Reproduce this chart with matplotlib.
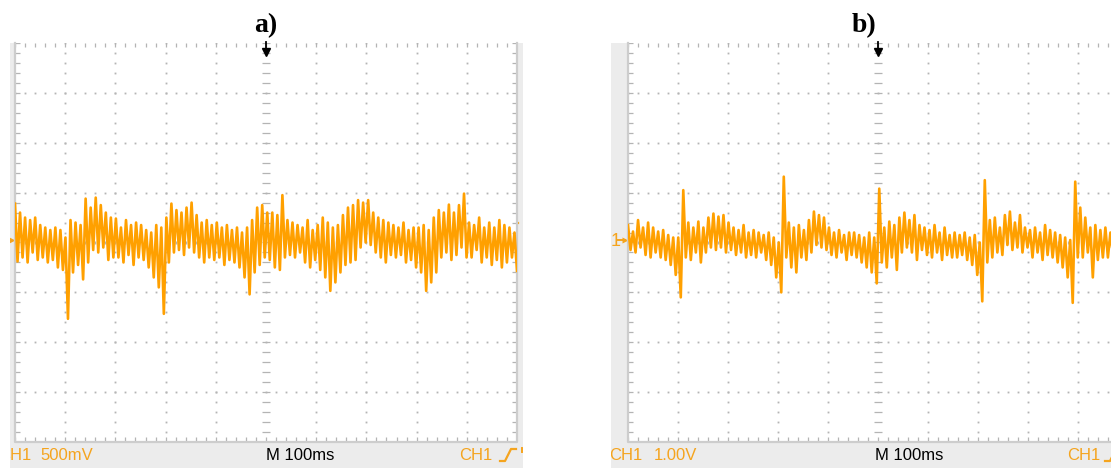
import numpy as np
import matplotlib
matplotlib.use("Agg")
import matplotlib.pyplot as plt
from matplotlib.collections import LineCollection

W, H = 1111, 468

# CH1 samples in screen divisions, alternating peak / trough, 0.05 div apart
trace_a = [
    0.78, -0.38, 0.60, -0.30, 0.50, -0.40, 0.45, -0.20, 0.50, -0.35,
    0.35, -0.30, 0.30, -0.40, 0.25, -0.35, 0.30, -0.50, 0.25, -0.55,
    0.10, -1.53, 0.45, -0.60, 0.40, -0.45, 0.35, -0.74, 0.88, -0.40,
    0.70, -0.15, 0.90, -0.20, 0.75, -0.10, 0.60, -0.35, 0.50, -0.30,
    0.48, -0.30, 0.30, -0.40, 0.45, -0.25, 0.35, -0.45, 0.40, -0.30,
    0.35, -0.35, 0.25, -0.50, 0.20, -0.70, 0.35, -0.90, 0.30, -1.43,
    0.50, -0.40, 0.78, -0.20, 0.65, -0.15, 0.60, -0.25, 0.70, -0.10,
    0.80, -0.20, 0.55, -0.30, 0.40, -0.40, 0.45, -0.30, 0.35, -0.35,
    0.40, -0.30, 0.30, -0.45, 0.35, -0.35, 0.25, -0.40, 0.30, -0.50,
    0.20, -0.70, 0.30, -1.04, 0.45, -0.60, 0.70, -0.45, 0.75, -0.30,
    0.60, -0.35, 0.60, -0.50, 0.55, -0.55, 0.95, -0.30, 0.45, -0.25,
    0.40, -0.30, 0.35, -0.20, 0.30, -0.40, 0.45, -0.50, 0.25, -0.35,
    0.35, -0.55, 0.50, -0.70, 0.40, -0.97, 0.30, -0.80, 0.35, -0.60,
    0.55, -0.45, 0.70, -0.40, 0.75, -0.35, 0.85, -0.10, 0.80, 0.00,
    0.85, -0.05, 0.60, -0.20, 0.50, -0.30, 0.45, -0.40, 0.40, -0.25,
    0.35, -0.30, 0.30, -0.25, 0.40, -0.40, 0.25, -0.35, 0.30, -0.50,
    0.30, -0.60, 0.35, -0.97, 0.25, -0.80, 0.50, -0.60, 0.65, -0.30,
    0.60, -0.20, 0.76, -0.35, 0.60, -0.25, 0.75, -0.10, 0.98, -0.30,
    0.40, -0.30, 0.35, -0.15, 0.50, -0.40, 0.30, -0.30, 0.40, -0.45,
    0.30, -0.35, 0.45, -0.50, 0.35, -0.40, 0.30, -0.30, 0.20, -0.57,
]

trace_b = [
    0.35, -0.15, 0.22, -0.20, 0.45, -0.10, 0.30, -0.25, 0.40, -0.30,
    0.30, -0.20, 0.22, -0.30, 0.25, -0.35, 0.15, -0.45, 0.10, -0.65,
    0.10, -1.10, 1.05, -0.30, 0.40, -0.35, 0.30, -0.20, 0.42, -0.40,
    0.30, -0.20, 0.50, -0.10, 0.58, -0.15, 0.52, -0.10, 0.55, -0.20,
    0.40, -0.15, 0.30, -0.25, 0.25, -0.20, 0.35, -0.30, 0.20, -0.25,
    0.25, -0.30, 0.20, -0.20, 0.15, -0.35, 0.20, -0.45, 0.10, -0.70,
    0.00, -1.00, 1.32, -0.30, 0.40, -0.50, 0.30, -0.60, 0.35, -0.30,
    0.25, -0.35, 0.45, -0.20, 0.62, -0.05, 0.55, -0.10, 0.50, -0.15,
    0.30, -0.25, 0.20, -0.30, 0.25, -0.20, 0.15, -0.35, 0.20, -0.25,
    0.20, -0.30, 0.15, -0.40, 0.10, -0.50, 0.20, -0.60, 0.10, -0.82,
    1.08, -0.40, 0.30, -0.50, 0.42, -0.30, 0.35, -0.55, 0.50, -0.20,
    0.60, -0.10, 0.45, -0.20, 0.55, -0.35, 0.35, -0.15, 0.30, -0.25,
    0.25, -0.30, 0.35, -0.20, 0.20, -0.35, 0.30, -0.25, 0.15, -0.30,
    0.20, -0.30, 0.15, -0.25, 0.20, -0.35, 0.10, -0.45, 0.15, -0.65,
    0.00, -1.18, 1.25, -0.40, 0.45, -0.30, 0.50, -0.20, 0.30, -0.25,
    0.55, -0.05, 0.62, -0.15, 0.40, -0.10, 0.55, -0.20, 0.30, -0.10,
    0.25, -0.30, 0.30, -0.20, 0.20, -0.35, 0.35, -0.25, 0.25, -0.30,
    0.20, -0.40, 0.15, -0.50, 0.10, -0.70, 0.05, -1.21, 1.22, -0.30,
    0.70, -0.30, 0.50, -0.20, 0.30, -0.70, 0.35, -0.35, 0.25, -0.30,
    0.30, -0.30, 0.20, -0.25, 0.35, -0.20, 0.25, -0.30, 0.30, -0.25,
]

titles = ["a)", "b)"]
volts = ["500mV", "1.00V"]
timebase = "M 100ms"
channel = "CH1"

TRACE = "#ffa000"
LABEL = "#f5a41e"
SCREEN = "#ececec"
FRAME = "#cdcdcd"
DOTS = "#b4b4b4"


def px_axes(fig, x0, y0, x1, y1):
    return fig.add_axes([x0 / W, 1 - y1 / H, (x1 - x0) / W, (y1 - y0) / H])


def bare(ax):
    ax.set_xticks([])
    ax.set_yticks([])
    for s in ax.spines.values():
        s.set_visible(False)


def graticule(ax):
    ax.set_xlim(0, 10)
    ax.set_ylim(-4, 4)
    ax.set_facecolor("white")
    bare(ax)

    fine_x = np.arange(0, 10.01, 0.2)
    fine_y = np.arange(-4, 4.01, 0.2)

    # dotted division lines
    for gx in [1, 2, 3, 4, 6, 7, 8, 9]:
        ax.plot(np.full_like(fine_y, gx), fine_y, ls="none", marker="s",
                ms=1.3, mfc=DOTS, mec="none", zorder=1)
    for gy in [-3, -2, -1, 1, 2, 3]:
        ax.plot(fine_x, np.full_like(fine_x, gy), ls="none", marker="s",
                ms=1.3, mfc=DOTS, mec="none", zorder=1)

    segs = []
    # frame ticks
    segs += [[(0, y), (0.1, y)] for y in fine_y]
    segs += [[(9.9, y), (10, y)] for y in fine_y]
    segs += [[(x, -4), (x, -3.9)] for x in fine_x]
    segs += [[(x, 4), (x, 3.92)] for x in fine_x]
    # centre cross ticks
    segs += [[(4.92, y), (5.08, y)] for y in fine_y]
    segs += [[(x, -0.04), (x, 0.04)] for x in fine_x]
    ax.add_collection(LineCollection(segs, colors=DOTS, linewidths=0.9,
                                     zorder=1))

    # solid frame on left, right and bottom
    ax.plot([0, 0, 10, 10], [4, -4, -4, 4], color=FRAME, lw=1.6,
            clip_on=False, zorder=2)

    # trigger position marker
    ax.plot([5, 5], [4.02, 3.86], color="black", lw=1.3, clip_on=False,
            zorder=5)
    ax.plot([5], [3.82], marker="v", ms=6, color="black", clip_on=False,
            zorder=5)


def draw_trace(ax, values):
    x = np.linspace(0, 10, len(values))
    ax.plot(x, values, color=TRACE, lw=1.9, zorder=3)


def slope_mark(ax, x0):
    ax.plot([x0, x0 + 5, x0 + 11, x0 + 16], [461, 461, 449, 449],
            color=LABEL, lw=1.6, clip_on=True)


def screen(fig, x0, x1):
    ax = px_axes(fig, x0, 43, x1, 468)
    ax.set_xlim(x0, x1)
    ax.set_ylim(468, 43)
    ax.set_facecolor(SCREEN)
    bare(ax)
    return ax


plt.rcParams["font.family"] = ["Liberation Sans", "DejaVu Sans"]
fig = plt.figure(figsize=(W / 100, H / 100), dpi=100)
fig.patch.set_facecolor("white")

txt = dict(fontsize=12, va="center", ha="left", clip_on=True)

# ---- a) 500 mV/div ----
sa = screen(fig, 10, 523)
ga = px_axes(fig, 15, 43, 517, 442)
graticule(ga)
draw_trace(ga, trace_a)
sa.text(-2, 455, channel, color=LABEL, **txt)
sa.text(40, 455, volts[0], color=LABEL, **txt)
sa.text(266, 455, timebase, color="black", **txt)
sa.text(459, 455, channel, color=LABEL, **txt)
slope_mark(sa, 500)
sa.plot([521.5, 521.5], [448, 452], color=LABEL, lw=1.4)
# ground level and trigger level markers
sa.plot([12], [240], marker=">", ms=5, color=LABEL, mec="none")
sa.plot([509, 518], [223, 223], color=LABEL, lw=1.6)
sa.plot([508], [223], marker="<", ms=7, color=LABEL, mec="none")

# ---- b) 1.00 V/div ----
sb = screen(fig, 611, 1140)
gb = px_axes(fig, 628, 43, 1128, 442)
graticule(gb)
draw_trace(gb, trace_b)
sb.text(609, 455, channel, color=LABEL, **txt)
sb.text(654, 455, volts[1], color=LABEL, **txt)
sb.text(875, 455, timebase, color="black", **txt)
sb.text(1067, 455, channel, color=LABEL, **txt)
slope_mark(sb, 1105)
sb.text(611, 241, "1", color=LABEL, fontsize=13, va="center", ha="left")
sb.plot([618, 625], [240, 240], color=LABEL, lw=1.4)
sb.plot([625], [240], marker=">", ms=5, color=LABEL, mec="none")

for title, xc in zip(titles, [266, 864]):
    fig.text(xc / W, 1 - 26 / H, title, fontsize=20, fontweight="bold",
             family=["Liberation Serif", "DejaVu Serif"],
             ha="center", va="center")

fig.savefig("out.png", dpi=100)
